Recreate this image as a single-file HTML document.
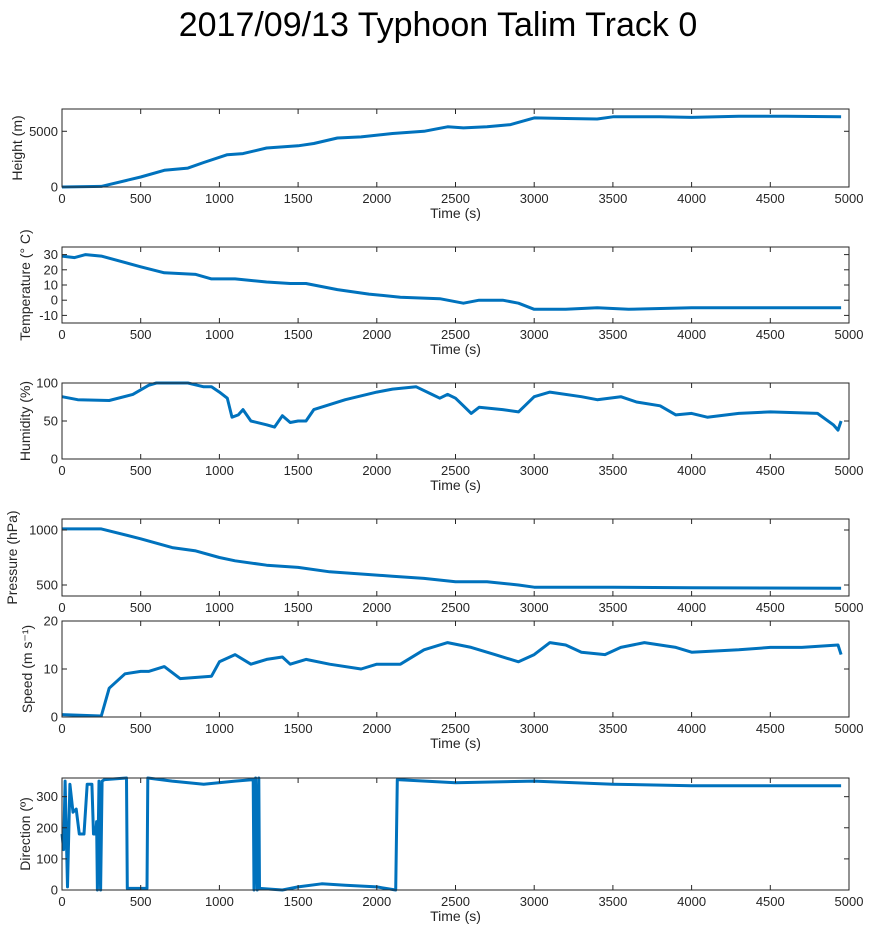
<!DOCTYPE html>
<html><head><meta charset="utf-8">
<style>
body{margin:0;background:#fff;}
svg{display:block;font-family:"Liberation Sans",Arial,sans-serif;}
.tk{font-size:13px;fill:#262626;}
.lb{font-size:14px;fill:#262626;}
</style></head>
<body>
<svg id="chart" width="880" height="939" viewBox="0 0 880 939">
<rect width="880" height="939" fill="#fff"/>
<text x="438" y="36" text-anchor="middle" font-size="34" fill="#000">2017/09/13 Typhoon Talim Track 0</text>
</svg>
<script>
const xTicks=[0,500,1000,1500,2000,2500,3000,3500,4000,4500,5000];
const heightData=[[0,0],[250,50],[500,900],[650,1500],[800,1700],[900,2200],[1050,2900],[1150,3000],[1300,3500],[1500,3700],[1600,3900],[1750,4400],[1900,4500],[2100,4800],[2300,5000],[2450,5400],[2550,5300],[2700,5400],[2850,5600],[3000,6200],[3200,6150],[3400,6100],[3500,6300],[3800,6300],[4000,6250],[4300,6350],[4600,6350],[4950,6300]];
const tempData=[[0,29],[80,28],[150,30],[250,29],[500,22],[650,18],[850,17],[950,14],[1100,14],[1300,12],[1450,11],[1550,11],[1750,7],[1950,4],[2150,2],[2400,1],[2550,-2],[2650,0],[2800,0],[2900,-2],[3000,-6],[3200,-6],[3400,-5],[3600,-6],[4000,-5],[4500,-5],[4950,-5]];
const humData=[[0,82],[100,78],[300,77],[450,85],[550,97],[600,100],[800,100],[900,95],[950,95],[1000,88],[1050,80],[1080,55],[1120,58],[1150,65],[1200,50],[1300,45],[1350,42],[1400,57],[1450,48],[1500,50],[1550,50],[1600,65],[1800,78],[2000,88],[2100,92],[2250,95],[2350,85],[2400,80],[2450,85],[2500,80],[2550,70],[2600,60],[2650,68],[2800,65],[2900,62],[3000,82],[3100,88],[3300,82],[3400,78],[3550,82],[3650,75],[3800,70],[3900,58],[4000,60],[4100,55],[4300,60],[4500,62],[4800,60],[4900,45],[4930,38],[4950,50]];
const presData=[[0,1010],[250,1010],[500,920],[700,840],[850,810],[1000,750],[1100,720],[1300,680],[1500,660],[1700,620],[1900,600],[2100,580],[2300,560],[2500,530],[2700,530],[2900,500],[3000,480],[3500,480],[4000,475],[4950,470]];
const speedData=[[0,0.5],[250,0.2],[300,6],[400,9],[500,9.5],[550,9.5],[650,10.5],[750,8],[950,8.5],[1000,11.5],[1100,13],[1200,11],[1300,12],[1400,12.5],[1450,11],[1550,12],[1700,11],[1900,10],[2000,11],[2150,11],[2300,14],[2450,15.5],[2600,14.5],[2750,13],[2900,11.5],[3000,13],[3100,15.5],[3200,15],[3300,13.5],[3450,13],[3550,14.5],[3700,15.5],[3800,15],[3900,14.5],[4000,13.5],[4300,14],[4500,14.5],[4700,14.5],[4930,15],[4950,13]];
const dirData=[[0,180],[10,130],[20,350],[35,10],[50,340],[70,250],[90,260],[110,180],[140,180],[160,340],[190,340],[200,180],[215,180],[220,220],[225,0],[235,350],[245,0],[255,350],[270,355],[410,360],[415,5],[540,5],[545,360],[700,350],[900,340],[1100,350],[1215,355],[1220,0],[1230,360],[1240,0],[1250,360],[1255,5],[1400,0],[1500,10],[1650,20],[1800,15],[2000,10],[2120,0],[2130,355],[2500,345],[3000,350],[3500,340],[4000,335],[4500,335],[4950,335]];
const panels=[
 {name:'height',label:'Height (m)',top:109,bot:187,min:0,max:7000,ticks:[0,5000],data:heightData,lx:22,xt:true},
 {name:'temperature',label:'Temperature (° C)',top:247,bot:323,min:-15,max:35,ticks:[-10,0,10,20,30],data:tempData,lx:30,xt:true},
 {name:'humidity',label:'Humidity (%)',top:383,bot:459,min:0,max:100,ticks:[0,50,100],data:humData,lx:30,xt:true},
 {name:'pressure',label:'Pressure (hPa)',top:519,bot:596,min:400,max:1100,ticks:[500,1000],data:presData,lx:17,xt:false},
 {name:'speed',label:'Speed (m s⁻¹)',top:621,bot:717,min:0,max:20,ticks:[0,10,20],data:speedData,lx:32,xt:true},
 {name:'direction',label:'Direction (º)',top:778,bot:890,min:0,max:360,ticks:[0,100,200,300],data:dirData,lx:30,xt:true}
];
const NS='http://www.w3.org/2000/svg';
const svg=document.getElementById('chart');
const L=62,R=849;
function xs(v){return L+(v/5000)*(R-L);}
function mk(t,a,p){const e=document.createElementNS(NS,t);for(const k in a)e.setAttribute(k,a[k]);(p||svg).appendChild(e);return e;}
panels.forEach(p=>{
 const ys=v=>p.bot-(v-p.min)/(p.max-p.min)*(p.bot-p.top);
 const g=mk('g',{});
 
 
 const pts=p.data.map(d=>xs(d[0]).toFixed(1)+','+ys(d[1]).toFixed(1)).join(' ');
 const line=mk('polyline',{points:pts,fill:'none',stroke:'#0072BD','stroke-width':3,'stroke-linejoin':'round'},g);
 
 
 const box=mk('rect',{x:L,y:p.top,width:R-L,height:p.bot-p.top,fill:'none',stroke:'#262626','stroke-width':1},g);
 
 
 xTicks.forEach(t=>{
  const x=xs(t);
  mk('line',{x1:x,x2:x,y1:p.bot,y2:p.bot-5,stroke:'#262626'},g);
  mk('line',{x1:x,x2:x,y1:p.top,y2:p.top+5,stroke:'#262626'},g);
  const tx=mk('text',{x:x,y:p.bot+16,'text-anchor':'middle',class:'tk'},g);
  tx.textContent=t;
  
  
 });
 p.ticks.forEach(t=>{
  const y=ys(t);
  mk('line',{x1:L,x2:L+5,y1:y,y2:y,stroke:'#262626'},g);
  mk('line',{x1:R,x2:R-5,y1:y,y2:y,stroke:'#262626'},g);
  const tx=mk('text',{x:L-4,y:y+4.5,'text-anchor':'end',class:'tk'},g);
  tx.textContent=t;
  
  
 });
 if(p.xt){
  const xl=mk('text',{x:(L+R)/2,y:p.bot+31,'text-anchor':'middle',class:'lb'},g);
  xl.textContent='Time (s)';
  
  
 }
 const cy=(p.top+p.bot)/2, lx=p.lx;
 const yl=mk('text',{x:lx,y:cy,'text-anchor':'middle',class:'lb',transform:'rotate(-90 '+lx+' '+cy+')'},g);
 yl.textContent=p.label;
 
 
});
</script>
</body></html>
